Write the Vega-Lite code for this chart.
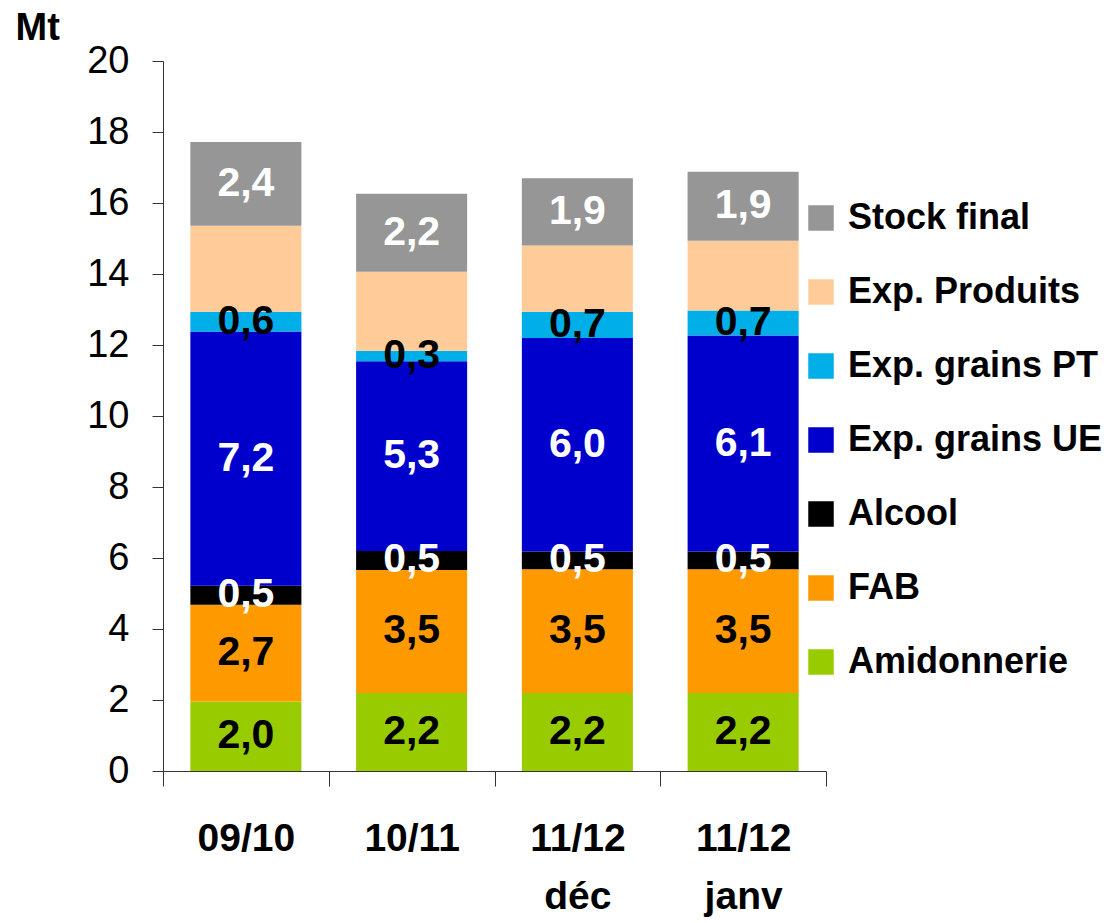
{
  "$schema": "https://vega.github.io/schema/vega-lite/v6.json",
  "autosize": "none",
  "width": 663,
  "height": 710,
  "padding": {"left": 163, "top": 61, "right": 287, "bottom": 152},
  "background": "white",
  "config": {
    "locale": {"number": {"decimal": ",", "thousands": " ", "grouping": [3], "currency": ["", " €"]}},
    "view": {"stroke": null},
    "font": "Liberation Sans"
  },
  "data": {
    "values": [
      {"campagne": "09/10", "serie": "Amidonnerie", "rang": 1, "valeur": 1.96},
      {"campagne": "09/10", "serie": "FAB", "rang": 2, "valeur": 2.72},
      {"campagne": "09/10", "serie": "Alcool", "rang": 3, "valeur": 0.54},
      {"campagne": "09/10", "serie": "Exp. grains UE", "rang": 4, "valeur": 7.16},
      {"campagne": "09/10", "serie": "Exp. grains PT", "rang": 5, "valeur": 0.56},
      {"campagne": "09/10", "serie": "Exp. Produits", "rang": 6, "valeur": 2.42},
      {"campagne": "09/10", "serie": "Stock final", "rang": 7, "valeur": 2.36},
      {"campagne": "10/11", "serie": "Amidonnerie", "rang": 1, "valeur": 2.2},
      {"campagne": "10/11", "serie": "FAB", "rang": 2, "valeur": 3.46},
      {"campagne": "10/11", "serie": "Alcool", "rang": 3, "valeur": 0.54},
      {"campagne": "10/11", "serie": "Exp. grains UE", "rang": 4, "valeur": 5.34},
      {"campagne": "10/11", "serie": "Exp. grains PT", "rang": 5, "valeur": 0.3},
      {"campagne": "10/11", "serie": "Exp. Produits", "rang": 6, "valeur": 2.22},
      {"campagne": "10/11", "serie": "Stock final", "rang": 7, "valeur": 2.2},
      {"campagne": "11/12 déc", "serie": "Amidonnerie", "rang": 1, "valeur": 2.2},
      {"campagne": "11/12 déc", "serie": "FAB", "rang": 2, "valeur": 3.48},
      {"campagne": "11/12 déc", "serie": "Alcool", "rang": 3, "valeur": 0.5},
      {"campagne": "11/12 déc", "serie": "Exp. grains UE", "rang": 4, "valeur": 6.02},
      {"campagne": "11/12 déc", "serie": "Exp. grains PT", "rang": 5, "valeur": 0.74},
      {"campagne": "11/12 déc", "serie": "Exp. Produits", "rang": 6, "valeur": 1.86},
      {"campagne": "11/12 déc", "serie": "Stock final", "rang": 7, "valeur": 1.9},
      {"campagne": "11/12 janv", "serie": "Amidonnerie", "rang": 1, "valeur": 2.2},
      {"campagne": "11/12 janv", "serie": "FAB", "rang": 2, "valeur": 3.48},
      {"campagne": "11/12 janv", "serie": "Alcool", "rang": 3, "valeur": 0.5},
      {"campagne": "11/12 janv", "serie": "Exp. grains UE", "rang": 4, "valeur": 6.09},
      {"campagne": "11/12 janv", "serie": "Exp. grains PT", "rang": 5, "valeur": 0.7},
      {"campagne": "11/12 janv", "serie": "Exp. Produits", "rang": 6, "valeur": 1.97},
      {"campagne": "11/12 janv", "serie": "Stock final", "rang": 7, "valeur": 1.94}
    ]
  },
  "transform": [
    {"stack": "valeur", "groupby": ["campagne"], "sort": [{"field": "rang", "order": "ascending"}], "as": ["bas", "haut"]},
    {"calculate": "(datum.bas + datum.haut) / 2", "as": "milieu"}
  ],
  "encoding": {
    "x": {
      "field": "campagne",
      "type": "nominal",
      "sort": null,
      "scale": {"paddingInner": 0, "paddingOuter": 0},
      "axis": {
        "title": null,
        "labelAngle": 0,
        "tickBand": "extent",
        "tickSize": 15,
        "labelPadding": 33,
        "labelFont": "Liberation Sans",
        "labelFontWeight": "bold",
        "labelFontSize": 39,
        "labelColor": "black",
        "labelLineHeight": 58,
        "labelBaseline": "top",
        "labelExpr": "split(datum.label, ' ')",
        "domainColor": "#333333",
        "tickColor": "#333333"
      }
    }
  },
  "layer": [
    {
      "mark": {"type": "bar", "width": {"band": 0.67}},
      "encoding": {
        "y": {
          "field": "bas",
          "type": "quantitative",
          "scale": {"domain": [0, 20]},
          "axis": {
            "title": "Mt",
            "titleAngle": 0,
            "titleAlign": "left",
            "titleBaseline": "top",
            "titleX": -148,
            "titleY": -52,
            "titleFont": "Liberation Sans",
            "titleFontWeight": "bold",
            "titleFontSize": 38,
            "titleColor": "black",
            "values": [0, 2, 4, 6, 8, 10, 12, 14, 16, 18, 20],
            "grid": false,
            "tickSize": 11,
            "labelPadding": 23,
            "labelFont": "Liberation Sans",
            "labelFontSize": 38,
            "labelColor": "black",
            "domainColor": "#333333",
            "tickColor": "#333333"
          }
        },
        "y2": {"field": "haut"},
        "color": {
          "field": "serie",
          "type": "nominal",
          "scale": {
            "domain": ["Stock final", "Exp. Produits", "Exp. grains PT", "Exp. grains UE", "Alcool", "FAB", "Amidonnerie"],
            "range": ["#969696", "#FFCC99", "#00AEE8", "#0000CC", "#000000", "#FF9900", "#99CC00"]
          },
          "legend": {
            "title": null,
            "orient": "none",
            "legendX": 640,
            "legendY": 139,
            "symbolType": "square",
            "symbolSize": 650,
            "symbolStrokeWidth": 0,
            "symbolOpacity": 1,
            "labelFont": "Liberation Sans",
            "labelFontWeight": "bold",
            "labelFontSize": 36,
            "labelColor": "black",
            "labelOffset": 9,
            "labelLimit": 400,
            "rowPadding": 38
          }
        }
      }
    },
    {
      "transform": [{"filter": "datum.serie !== 'Exp. Produits'"}],
      "mark": {"type": "text", "font": "Liberation Sans", "fontWeight": "bold", "fontSize": 41, "baseline": "middle", "align": "center"},
      "encoding": {
        "y": {"field": "milieu", "type": "quantitative"},
        "text": {"field": "valeur", "type": "quantitative", "format": ".1f"},
        "color": {
          "condition": {"test": "datum.serie === 'Stock final' || datum.serie === 'Exp. grains UE' || datum.serie === 'Alcool'", "value": "white"},
          "value": "black"
        }
      }
    }
  ]
}
